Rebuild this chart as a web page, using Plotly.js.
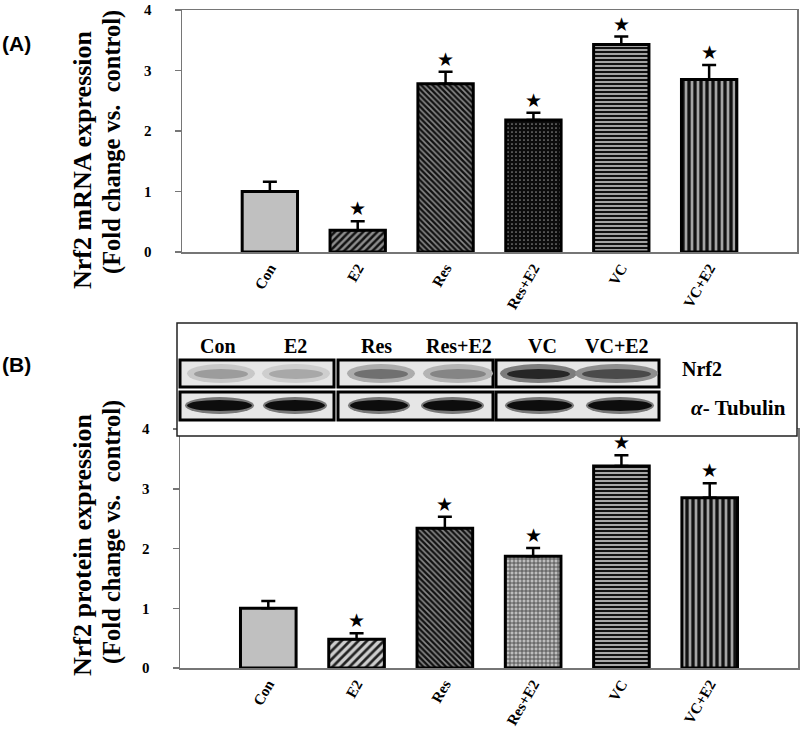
<!DOCTYPE html>
<html>
<head>
<meta charset="utf-8">
<script src="https://cdn.plot.ly/plotly-3.0.1.min.js"></script>
<style>html,body{margin:0;padding:0;background:#fff;}#chart{width:800px;height:732px;}</style>
</head>
<body>
<div id="chart"></div>
<script>
// ---- data ----
var groups = ["Con", "E2", "Res", "Res+E2", "VC", "VC+E2"];
var mrnaMean = [1.00, 0.36, 2.78, 2.18, 3.43, 2.85];
var mrnaErr  = [0.16, 0.15, 0.20, 0.12, 0.13, 0.24];
var mrnaSig  = [false, true, true, true, true, true];
var protMean = [1.00, 0.48, 2.34, 1.87, 3.38, 2.85];
var protErr  = [0.12, 0.10, 0.19, 0.14, 0.18, 0.24];
var protSig  = [false, true, true, true, true, true];
var yTicks   = [0, 1, 2, 3, 4];
var blotLanes = ["Con", "E2", "Res", "Res+E2", "VC", "VC+E2"];

// ---- helpers (pixel -> paper) ----
function PX(x){ return x/800; }
function PY(y){ return 1 - y/732; }

var SERIF = "Liberation Serif, Times New Roman, serif";
var AX = "#767676";

// per-bar fill styles (top = mRNA, bottom = protein)
var topStyle = [
  { shape: "",   fg: "#000",    bg: "#c0c0c0", size: 8, sol: 0.3 },
  { shape: "/",  fg: "#111",    bg: "#8c8c8c", size: 5, sol: 0.5 },
  { shape: "\\", fg: "#111",    bg: "#8a8a8a", size: 4, sol: 0.6 },
  { shape: ".",  fg: "#8a8a8a", bg: "#0c0c0c", size: 4, sol: 0.15 },
  { shape: "-",  fg: "#111",    bg: "#a4a4a4", size: 4, sol: 0.5 },
  { shape: "|",  fg: "#111",    bg: "#a4a4a4", size: 6, sol: 0.55 }
];
var botStyle = [
  { shape: "",   fg: "#000",    bg: "#c0c0c0", size: 8, sol: 0.3 },
  { shape: "/",  fg: "#222",    bg: "#cdcdcd", size: 6, sol: 0.45 },
  { shape: "\\", fg: "#111",    bg: "#8a8a8a", size: 4, sol: 0.6 },
  { shape: "+",  fg: "#4a4a4a", bg: "#bdbdbd", size: 4, sol: 0.4 },
  { shape: "-",  fg: "#111",    bg: "#a8a8a8", size: 4, sol: 0.5 },
  { shape: "|",  fg: "#111",    bg: "#a4a4a4", size: 6, sol: 0.55 }
];

var traces = [];
function addBars(vals, errs, styles, xa, ya){
  for (var i = 0; i < groups.length; i++){
    var s = styles[i];
    var m = { color: s.bg, line: { color: "#000", width: 3 } };
    if (s.shape) m.pattern = { shape: s.shape, fgcolor: s.fg, bgcolor: s.bg, size: s.size, solidity: s.sol, fillmode: "replace" };
    traces.push({
      type: "bar", x: [groups[i]], y: [vals[i]], xaxis: xa, yaxis: ya, width: 0.63,
      marker: m,
      error_y: { type: "data", symmetric: false, array: [errs[i]], arrayminus: [0],
                 color: "#000", thickness: 2.5, width: 7 },
      hoverinfo: "x+y", showlegend: false
    });
  }
}
addBars(mrnaMean, mrnaErr, topStyle, "x", "y");
addBars(protMean, protErr, botStyle, "x2", "y2");

var annotations = [];
function addStars(vals, errs, sig, xa, ya){
  for (var i = 0; i < groups.length; i++){
    if (!sig[i]) continue;
    annotations.push({ x: groups[i], y: vals[i] + errs[i], xref: xa, yref: ya,
      text: "★", showarrow: false, yshift: 13, xanchor: "center", yanchor: "middle",
      font: { family: "DejaVu Sans", size: 19, color: "#000" } });
  }
}
addStars(mrnaMean, mrnaErr, mrnaSig, "x", "y");
addStars(protMean, protErr, protSig, "x2", "y2");

function txt(x, y, t, font, angle){
  var a = { xref: "paper", yref: "paper", x: PX(x), y: PY(y), text: t, showarrow: false,
    xanchor: "center", yanchor: "middle", font: font };
  if (angle) a.textangle = angle;
  annotations.push(a);
}
var t1 = { family: SERIF, size: 26, color: "#000", weight: "bold" };
var t2 = { family: SERIF, size: 24.5, color: "#000", weight: "bold" };
txt(82, 160, "Nrf2 mRNA expression", t1, -90);
txt(112, 142, "(Fold change vs.  control)", t2, -90);
txt(82, 545, "Nrf2 protein expression", t1, -90);
txt(112, 532, "(Fold change vs.  control)", t2, -90);
var lab = { family: "Liberation Sans, Arial", size: 21, color: "#000", weight: "bold" };
txt(16, 44, "(A)", lab);
txt(16, 364, "(B)", lab);

// ---- western blot inset (decorative approximation of the photo) ----
var shapes = [];
shapes.push({ type: "rect", xref: "paper", yref: "paper", x0: PX(177), x1: PX(797), y0: PY(436), y1: PY(323),
  fillcolor: "#fff", line: { color: "#222", width: 1.5 } });
var panelX = [[180, 334], [338, 493], [496, 659]];
var rowY = [[360, 387], [392, 420]];
rowY.forEach(function(r){
  panelX.forEach(function(p){
    shapes.push({ type: "rect", xref: "paper", yref: "paper", x0: PX(p[0]), x1: PX(p[1]), y0: PY(r[1]), y1: PY(r[0]),
      fillcolor: "#e6e6e6", line: { color: "#000", width: 3 } });
  });
});
var laneX = [[190, 252], [265, 327], [350, 412], [426, 490], [503, 574], [578, 655]];
var nrfShade = ["#9c9c9c", "#a8a8a8", "#707070", "#858585", "#262626", "#4a4a4a"];
var nrfShadeOuter = ["#c8c8c8", "#cecece", "#acacac", "#b4b4b4", "#7c7c7c", "#8e8e8e"];
laneX.forEach(function(l, i){
  shapes.push({ type: "circle", xref: "paper", yref: "paper", x0: PX(l[0]-3), x1: PX(l[1]+3), y0: PY(383), y1: PY(364),
    fillcolor: nrfShadeOuter[i], line: { width: 0 } });
  shapes.push({ type: "circle", xref: "paper", yref: "paper", x0: PX(l[0]+4), x1: PX(l[1]-4), y0: PY(379), y1: PY(369),
    fillcolor: nrfShade[i], line: { width: 0 } });
});
var tubX = [[187, 252], [265, 325], [350, 408], [423, 482], [507, 572], [588, 652]];
tubX.forEach(function(l){
  shapes.push({ type: "circle", xref: "paper", yref: "paper", x0: PX(l[0]-2), x1: PX(l[1]+2), y0: PY(414), y1: PY(397),
    fillcolor: "#777", line: { width: 0 } });
  shapes.push({ type: "circle", xref: "paper", yref: "paper", x0: PX(l[0]), x1: PX(l[1]), y0: PY(411), y1: PY(400),
    fillcolor: "#0d0d0d", line: { width: 0 } });
});
var laneLabelX = [218, 295, 376, 459, 542, 617];
var laneFont = { family: SERIF, size: 20, color: "#000", weight: "bold" };
blotLanes.forEach(function(t, i){ txt(laneLabelX[i], 346, t, laneFont); });
txt(702, 369, "Nrf2", { family: SERIF, size: 20, color: "#000", weight: "bold" });
txt(738, 408, "<i>α</i>- Tubulin", { family: SERIF, size: 21, color: "#000", weight: "bold" });

var tickF = { family: SERIF, size: 15, color: "#000", weight: "bold" };
function xAx(d, anchor){
  return { domain: d, anchor: anchor, type: "category", categoryarray: groups, range: [-1, 6],
    tickangle: -60, tickfont: tickF, showline: true, linecolor: AX, linewidth: 1.5, mirror: true,
    ticks: "", showgrid: false, zeroline: false, fixedrange: true, ticklabeloverflow: "allow" };
}
function yAx(d, anchor){
  return { domain: d, anchor: anchor, range: [0, 4], tickvals: yTicks, tickfont: tickF,
    ticks: "outside", ticklen: 6, tickwidth: 1.5, tickcolor: AX, ticklabelstandoff: 20,
    ticklabeloverflow: "allow",
    showline: true, linecolor: AX, linewidth: 1.5, mirror: true, showgrid: false, zeroline: false, fixedrange: true };
}

var layout = {
  width: 800, height: 732, margin: { l: 0, r: 0, t: 0, b: 0 },
  paper_bgcolor: "#fff", plot_bgcolor: "#fff", showlegend: false, barmode: "overlay",
  xaxis: xAx([PX(182), PX(797)], "y"),
  yaxis: yAx([PY(252), PY(10)], "x"),
  xaxis2: xAx([PX(180), PX(798)], "y2"),
  yaxis2: yAx([PY(668), PY(429)], "x2"),
  shapes: shapes,
  annotations: annotations
};

Plotly.newPlot("chart", traces, layout, { displayModeBar: false, staticPlot: true });
</script>
</body>
</html>
